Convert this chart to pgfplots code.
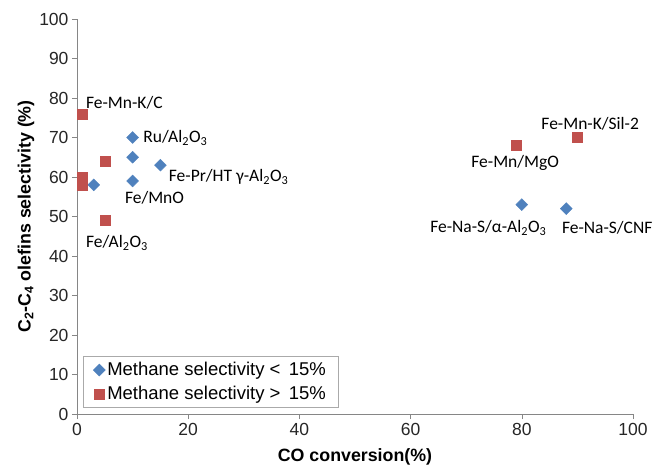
\documentclass[border=0pt]{standalone}
\usepackage{pgfplots}
\pgfplotsset{compat=1.18}
\usepackage{fontspec}
\setmainfont{Liberation Sans}
\newfontfamily\calib{Carlito}
\definecolor{ablue}{HTML}{4F81BD}
\definecolor{ared}{HTML}{C0504D}
\definecolor{agray}{HTML}{868686}
\begin{document}
\begin{tikzpicture}
\begin{axis}[
  at={(0pt,0pt)}, anchor=origin,
  scale only axis, width=556pt, height=395pt,
  xmin=0, xmax=100, ymin=0, ymax=100,
  xtick={0,20,...,100}, ytick={0,10,...,100},
  axis lines=left, axis line style={agray, -},
  tick style={agray, thin}, tick align=outside,
  major tick length=5pt,
  tick label style={font=\fontsize{17.5}{20}\selectfont, text=black!85},
  /pgf/number format/assume math mode=true,
  xticklabel style={yshift=-1pt},
  xlabel={\bfseries CO conversion(\%)},
  ylabel={\bfseries C\textsubscript{2}-C\textsubscript{4} olefins selectivity (\%)},
  label style={font=\fontsize{17.8}{20}\selectfont},
  xlabel style={yshift=-6pt},
  ylabel style={yshift=-2pt},
  clip=false,
  legend style={at={(axis cs:1.1,1.6)}, anchor=south west, draw=agray!70, line width=0.6pt,
    font=\fontsize{18.5}{21}\selectfont, row sep=5pt, inner xsep=10pt, inner ysep=4pt,
    legend cell align=left},
  legend image code/.code={\draw[#1] plot coordinates {(0.15cm,0cm)};},
]
\addplot[only marks, mark=square*, mark size=4.2pt, color=ablue, mark options={fill=ablue, draw=ablue, rotate=45}]
  coordinates {(3,58) (10,70) (10,65) (10,59) (15,63) (80,53) (88,52)};
\addlegendentry{Methane selectivity <\, 15\%}
\addplot[only marks, mark=square*, mark size=5pt, color=ared, mark options={fill=ared, draw=ared}]
  coordinates {(1,76) (5,64) (1,60) (1,58) (5,49) (79,68) (90,70)};
\addlegendentry{Methane selectivity >\, 15\%}
\begin{scope}[every node/.style={font=\calib\fontsize{17.5}{20}\selectfont, anchor=west, inner sep=0pt}]
\node at (axis cs:1.6,78.7) {Fe-Mn-K/C};
\node at (axis cs:11.9,69.9) {Ru/Al\textsubscript{2}O\textsubscript{3}};
\node at (axis cs:16.5,60.0) {Fe-Pr/HT γ-Al\textsubscript{2}O\textsubscript{3}};
\node at (axis cs:8.6,54.7) {Fe/MnO};
\node at (axis cs:1.6,43.3) {Fe/Al\textsubscript{2}O\textsubscript{3}};
\node at (axis cs:83.5,73.4) {Fe-Mn-K/Sil-2};
\node at (axis cs:70.9,63.5) {Fe-Mn/MgO};
\node at (axis cs:63.5,47.1) {Fe-Na-S/α-Al\textsubscript{2}O\textsubscript{3}};
\node at (axis cs:87.2,47.1) {Fe-Na-S/CNF};
\end{scope}
\end{axis}
\pgfresetboundingbox
\path (-77pt,-55pt) rectangle (577pt,414pt);
\end{tikzpicture}
\end{document}
